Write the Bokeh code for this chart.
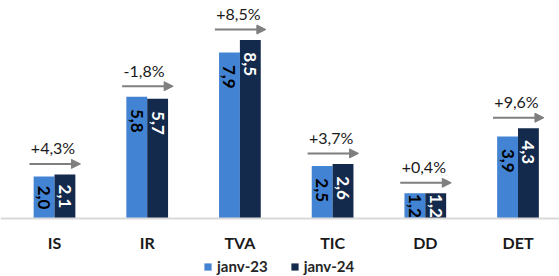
import math
from bokeh.plotting import figure
from bokeh.models import (Range1d, ColumnDataSource, Arrow, NormalHead,
                          Legend, LegendItem, Span)
from bokeh.transform import dodge
from bokeh.core.properties import value
from bokeh.embed import file_html
from bokeh.resources import INLINE

categories = ["IS", "IR", "TVA", "TIC", "DD", "DET"]
janv23 = [2.0, 5.8, 7.9, 2.5, 1.2, 3.9]
janv24 = [2.1, 5.7, 8.5, 2.6, 1.2, 4.3]
variation = ["+4,3%", "-1,8%", "+8,5%", "+3,7%", "+0,4%", "+9,6%"]
series_labels = ["janv-23", "janv-24"]

C23 = "#4383D3"
C24 = "#132A4C"
GREY = "#7f7f7f"
FONT = "Lato"
PX = 21.0   # pixels per unit on the value axis
XPX = 92.7  # pixels per category


def fr(v):
    return f"{v:.1f}".replace(".", ",")


xs = list(range(len(categories)))
W = 0.225
arrow_y = [max(a, b) + 0.5 for a, b in zip(janv23, janv24)]

src = ColumnDataSource(dict(
    x=xs, cat=categories, v23=janv23, v24=janv24,
    l23=[fr(v) for v in janv23], l24=[fr(v) for v in janv24],
    y23=[max(v - 1.15, v / 2) for v in janv23],
    y24=[max(v - 1.15, v / 2) for v in janv24],
    xs_a=[i - 0.27 for i in xs], xe_a=[i + 0.28 for i in xs],
    xt=[i - 0.255 for i in xs],
    ya=arrow_y, yt=[y + 16 / PX for y in arrow_y],
    ycat=[-23.7 / PX] * len(xs),
    var=variation,
))

Wd, H = 559, 276
x0 = -54 / XPX
y1 = 218 / PX
p = figure(width=Wd, height=H, x_range=Range1d(x0, x0 + Wd / XPX),
           y_range=Range1d(y1 - H / PX, y1),
           output_backend="svg", toolbar_location=None, min_border=0)
p.outline_line_color = None
p.grid.visible = False
p.axis.visible = False
p.background_fill_color = "white"

p.add_layout(Span(location=0, dimension="width", line_color="#d9d9d9", line_width=2))

r23 = p.vbar(x=dodge("x", -W / 2, range=p.x_range), top="v23", width=W, source=src,
             fill_color=C23, line_color=None)
r24 = p.vbar(x=dodge("x", W / 2, range=p.x_range), top="v24", width=W, source=src,
             fill_color=C24, line_color=None)

p.text(x=dodge("x", -W / 2, range=p.x_range), y="y23", text="l23", source=src,
       angle=-math.pi / 2, text_align="center", text_baseline="middle",
       text_color="#000000", text_font=value(FONT), text_font_style="bold",
       text_font_size="17px")
p.text(x=dodge("x", W / 2, range=p.x_range), y="y24", text="l24", source=src,
       angle=-math.pi / 2, text_align="center", text_baseline="middle",
       text_color="#ffffff", text_font=value(FONT), text_font_style="bold",
       text_font_size="17px")

p.add_layout(Arrow(end=NormalHead(size=9, fill_color=GREY, line_color=GREY),
                   x_start="xs_a", y_start="ya", x_end="xe_a", y_end="ya",
                   line_color=GREY, line_width=2, source=src))
p.text(x="xt", y="yt", text="var", source=src, text_align="left",
       text_baseline="middle", text_color="#1a1a1a", text_font=value(FONT),
       text_font_size="16px")

p.text(x="x", y="ycat", text="cat", source=src, text_align="center",
       text_baseline="middle", text_color="#1a1a1a", text_font=value(FONT),
       text_font_style="bold", text_font_size="16px")

legend = Legend(items=[LegendItem(label=series_labels[0], renderers=[r23]),
                       LegendItem(label=series_labels[1], renderers=[r24])],
                orientation="horizontal", location=(203, 1),
                glyph_width=9, glyph_height=9, label_standoff=5, spacing=22,
                padding=0, margin=0, border_line_color=None,
                background_fill_alpha=0, label_text_font=FONT,
                label_text_font_style="bold", label_text_font_size="15px",
                label_text_color="#262626", label_height=16)
p.add_layout(legend)

open("out.html", "w").write(file_html(p, INLINE))
